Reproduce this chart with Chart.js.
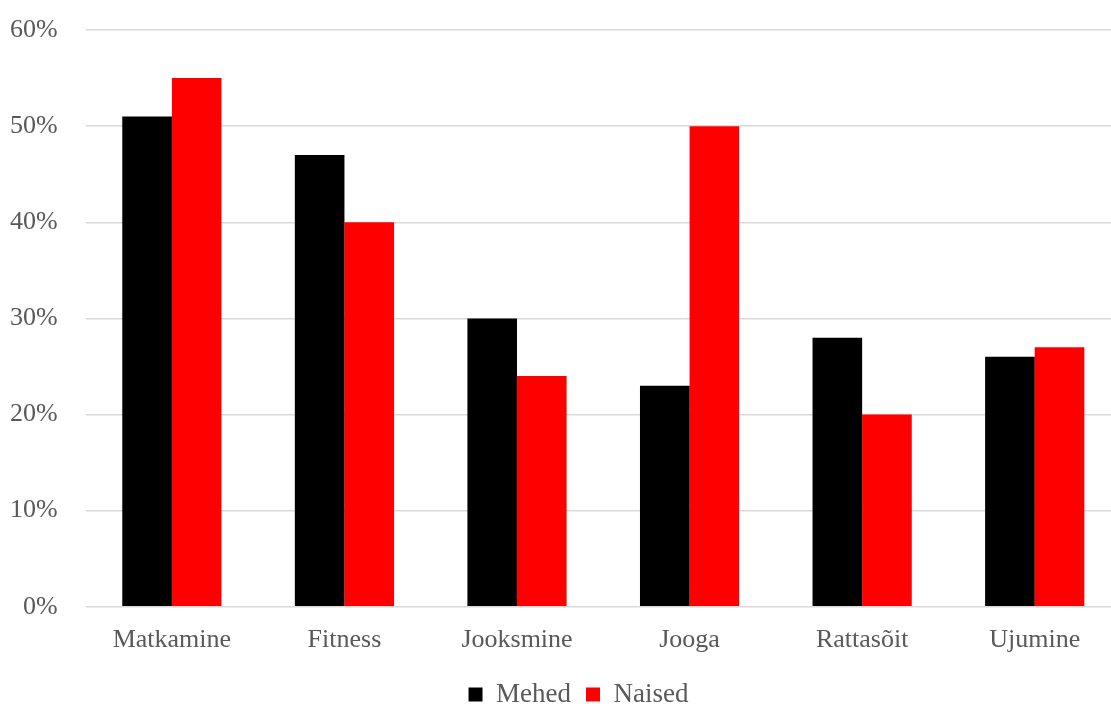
<!DOCTYPE html>
<html>
<head>
<meta charset="utf-8">
<script src="https://cdn.jsdelivr.net/npm/chart.js@4"></script>
<style>
  html, body { margin: 0; padding: 0; background: #fff; overflow: hidden; }
  #wrap { width: 1111px; height: 704px; overflow: hidden; position: relative; }
  #chart { position: absolute; left: 0; top: 0; }
</style>
</head>
<body>
<div id="wrap"><canvas id="chart" width="1121" height="718"></canvas></div>
<script>
// andmed
const categories = ['Matkamine', 'Fitness', 'Jooksmine', 'Jooga', 'Rattasõit', 'Ujumine'];
const mehed = [51, 47, 30, 23, 28, 26];
const naised = [55, 40, 24, 50, 20, 27];
const yTicks = [0, 10, 20, 30, 40, 50, 60];

const fontFamily = '"Liberation Serif", "Times New Roman", serif';
const textColor = '#595959';

// legend on originaalis veidi paremale nihutatud
const legendShift = {
  id: 'legendShift',
  afterLayout(chart) {
    if (!chart.legend) return;
    chart.legend.left += 18;
    chart.legend.right += 18;
  }
};

const ctx = document.getElementById('chart').getContext('2d');

// joonis on paremalt veidi ära lõigatud, nagu originaalis
new Chart(ctx, {
  type: 'bar',
  data: {
    labels: categories,
    datasets: [
      {
        label: 'Mehed',
        data: mehed,
        backgroundColor: '#000000',
        borderWidth: 0,
        categoryPercentage: 0.575,
        barPercentage: 1
      },
      {
        label: 'Naised',
        data: naised,
        backgroundColor: '#ff0000',
        borderWidth: 0,
        categoryPercentage: 0.575,
        barPercentage: 1
      }
    ]
  },
  plugins: [legendShift],
  options: {
    responsive: false,
    animation: false,
    layout: {
      padding: { top: 30, right: 0, bottom: 0, left: 0 }
    },
    scales: {
      x: {
        grid: { display: false },
        border: { display: false },
        ticks: {
          color: textColor,
          font: { family: fontFamily, size: 26 },
          padding: 10,
          maxRotation: 0
        }
      },
      y: {
        min: 0,
        max: 60,
        afterFit: (scale) => { scale.width = 85.6; },
        afterBuildTicks: (scale) => {
          scale.ticks = yTicks.map(v => ({ value: v }));
        },
        grid: {
          color: '#d9d9d9',
          lineWidth: 1.5,
          drawTicks: true,
          tickLength: 28,
          tickColor: 'rgba(0,0,0,0)'
        },
        border: { display: false },
        ticks: {
          color: textColor,
          font: { family: fontFamily, size: 26 },
          padding: 0,
          callback: (v) => v + '%'
        }
      }
    },
    plugins: {
      legend: {
        position: 'bottom',
        labels: {
          color: textColor,
          font: { family: fontFamily, size: 27 },
          boxWidth: 14,
          boxHeight: 14,
          padding: 15
        }
      },
      tooltip: { enabled: false }
    }
  }
});
</script>
</body>
</html>
